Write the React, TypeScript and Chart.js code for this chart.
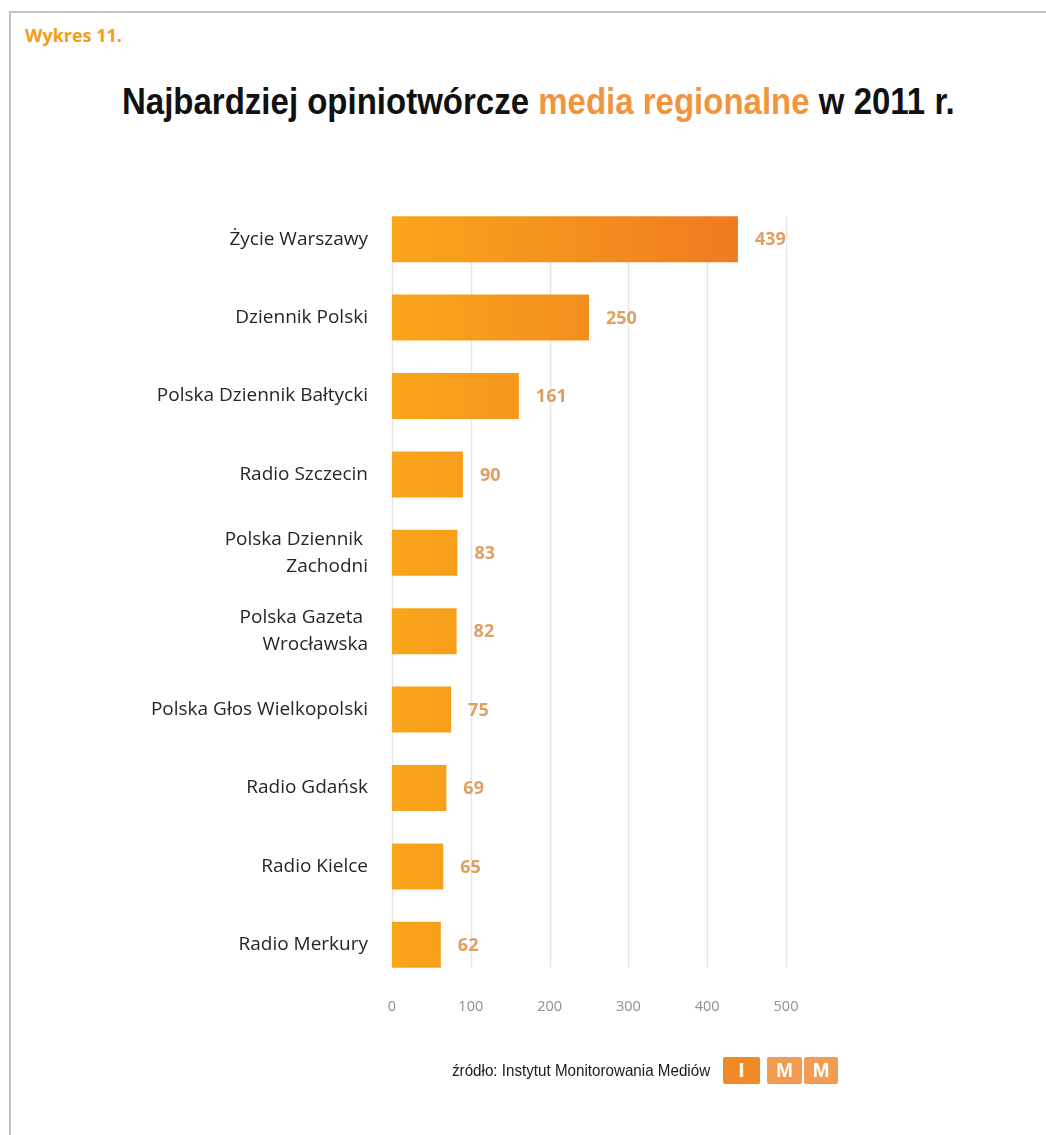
import React, { useEffect, useLayoutEffect, useRef } from "react";
import { Chart, registerables } from "chart.js";

Chart.register(...registerables);

const categories: (string | string[])[] = [
  "Życie Warszawy",
  "Dziennik Polski",
  "Polska Dziennik Bałtycki",
  "Radio Szczecin",
  ["Polska Dziennik ", "Zachodni"],
  ["Polska Gazeta ", "Wrocławska"],
  "Polska Głos Wielkopolski",
  "Radio Gdańsk",
  "Radio Kielce",
  "Radio Merkury",
];
const values: number[] = [439, 250, 161, 90, 83, 82, 75, 69, 65, 62];
const xTicks: number[] = [0, 100, 200, 300, 400, 500];

const gridPlugin = {
  id: "customGrid",
  beforeDatasetsDraw(chart: any) {
    const meta = chart.getDatasetMeta(0);
    if (!meta.data.length) return;
    const first = meta.data[0];
    const last = meta.data[meta.data.length - 1];
    const top = first.y - first.height / 2;
    const bottom = last.y + last.height / 2;
    const ctx = chart.ctx;
    const xs = chart.scales.x;
    ctx.save();
    ctx.strokeStyle = "#e6e6e6";
    ctx.lineWidth = 1.5;
    xTicks.forEach((t) => {
      const x = Math.round(xs.getPixelForValue(t)) + 0.5;
      ctx.beginPath();
      ctx.moveTo(x, top);
      ctx.lineTo(x, bottom);
      ctx.stroke();
    });
    ctx.restore();
  },
};

const labelPlugin = {
  id: "valueLabels",
  afterDatasetsDraw(chart: any) {
    const meta = chart.getDatasetMeta(0);
    const ctx = chart.ctx;
    ctx.save();
    ctx.font = "bold 18px 'Open Sans'";
    ctx.fillStyle = "#dfa062";
    ctx.textAlign = "left";
    ctx.textBaseline = "middle";
    meta.data.forEach((bar: any, i: number) => {
      ctx.fillText(String(values[i]), bar.x + 17, bar.y + 1);
    });
    ctx.restore();
  },
};

function FitText(props: {
  width: number;
  style: React.CSSProperties;
  children: React.ReactNode;
}) {
  const ref = useRef<HTMLDivElement | null>(null);
  useLayoutEffect(() => {
    const el = ref.current;
    if (!el) return;
    el.style.transform = "none";
    const w = el.scrollWidth;
    if (w > 0) el.style.transform = `scaleX(${props.width / w})`;
  });
  return (
    <div
      ref={ref}
      style={{
        position: "absolute",
        whiteSpace: "nowrap",
        transformOrigin: "0 0",
        ...props.style,
      }}
    >
      {props.children}
    </div>
  );
}

export default function App() {
  const ref = useRef<HTMLCanvasElement | null>(null);

  useEffect(() => {
    if (!ref.current) return;
    const chart = new Chart(ref.current, {
      type: "bar",
      data: {
        labels: categories,
        datasets: [
          {
            data: values,
            backgroundColor: (c: any) => {
              const ch = c.chart;
              const area = ch.chartArea;
              if (!area) return "#f7a01c";
              const xs = ch.scales.x;
              const g = ch.ctx.createLinearGradient(
                xs.getPixelForValue(0),
                0,
                xs.getPixelForValue(450),
                0
              );
              g.addColorStop(0, "#f9a61b");
              g.addColorStop(1, "#ef7a20");
              return g;
            },
            borderWidth: 0,
            barPercentage: 0.587,
            categoryPercentage: 1,
          },
        ],
      },
      options: {
        indexAxis: "y",
        responsive: false,
        animation: false,
        layout: { padding: { left: 0, right: 260, top: 200, bottom: 111 } },
        plugins: {
          legend: { display: false },
          tooltip: { enabled: false },
          title: { display: false },
        },
        scales: {
          x: {
            min: 0,
            max: 500,
            ticks: {
              stepSize: 100,
              color: "#8f8f8f",
              font: { family: "'Open Sans'", size: 14.5 },
              padding: 14,
            },
            grid: { display: false, drawTicks: false },
            border: { display: false },
            afterFit: (s: any) => {
              s.height = 40;
            },
          },
          y: {
            ticks: {
              color: "#262626",
              font: { family: "'Open Sans'", size: 19, lineHeight: 1.42 },
              padding: 24,
            },
            grid: { display: false, drawTicks: false },
            border: { display: false },
            afterFit: (s: any) => {
              s.width = 392;
            },
          },
        },
      },
      plugins: [gridPlugin, labelPlugin],
    } as any);
    return () => chart.destroy();
  }, []);

  return (
    <div
      style={{
        position: "absolute",
        left: 0,
        top: 0,
        width: 1046,
        height: 1135,
        background: "#fff",
        overflow: "hidden",
      }}
    >
      <div
        style={{
          position: "absolute",
          left: 9,
          top: 11,
          right: 0,
          bottom: 0,
          borderTop: "2px solid #c0c0c0",
          borderLeft: "2px solid #c0c0c0",
        }}
      />
      <div
        style={{
          position: "absolute",
          left: 25,
          top: 23,
          fontFamily: "'Open Sans', sans-serif",
          fontWeight: 700,
          fontSize: 18,
          color: "#f69c17",
          whiteSpace: "nowrap",
        }}
      >
        Wykres 11.
      </div>
      <FitText
        width={833}
        style={{
          left: 122,
          top: 80,
          fontFamily: "'Liberation Sans', Arial, sans-serif",
          fontWeight: 700,
          fontSize: 37,
          lineHeight: "44px",
          color: "#111",
        }}
      >
        Najbardziej opiniotwórcze{" "}
        <span style={{ color: "#f0953e" }}>media regionalne</span> w 2011 r.
      </FitText>
      <canvas
        ref={ref}
        width={1046}
        height={1135}
        style={{ position: "absolute", left: 0, top: 0, width: 1046, height: 1135 }}
      />
      <FitText
        width={258}
        style={{
          left: 452,
          top: 1061,
          fontFamily: "'Liberation Sans', Arial, sans-serif",
          fontSize: 16,
          lineHeight: "20px",
          color: "#1a1a1a",
        }}
      >
        źródło: Instytut Monitorowania Mediów
      </FitText>
      {[
        { l: 723, w: 37, t: "I", bg: "#f08a26" },
        { l: 767, w: 35, t: "M", bg: "#f39b50" },
        { l: 804, w: 34, t: "M", bg: "#f39b50" },
      ].map((b, i) => (
        <div
          key={i}
          style={{
            position: "absolute",
            left: b.l,
            top: 1057,
            width: b.w,
            height: 27,
            background: b.bg,
            borderRadius: 2,
            color: "#fff",
            fontFamily: "'Liberation Sans', Arial, sans-serif",
            fontWeight: 700,
            fontSize: 20,
            lineHeight: "27px",
            textAlign: "center",
          }}
        >
          {b.t}
        </div>
      ))}
    </div>
  );
}
